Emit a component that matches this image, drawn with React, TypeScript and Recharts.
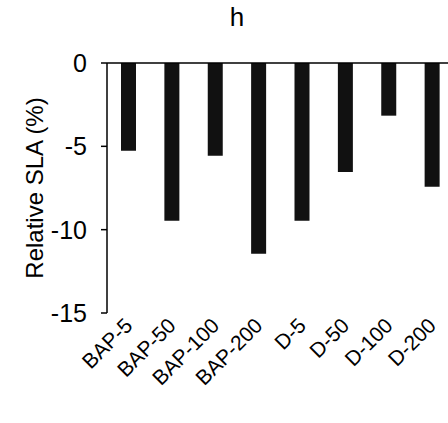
import { BarChart, Bar, XAxis, YAxis, ReferenceLine, Label } from "recharts";

const treatments = ["BAP-5", "BAP-50", "BAP-100", "BAP-200", "D-5", "D-50", "D-100", "D-200"];
const slaChange = [-5.26, -9.46, -5.56, -11.44, -9.46, -6.54, -3.16, -7.42];
const yTicks = [0, -5, -10, -15];

const data = treatments.map((name, i) => ({ name, value: slaChange[i] }));

const font = "Arial, 'Liberation Sans', sans-serif";

function AngledTick({ x, y, payload }: any) {
  return (
    <text
      x={x + 5}
      y={y + 6}
      transform={`rotate(-45, ${x + 5}, ${y + 6})`}
      textAnchor="end"
      fontSize={21}
      fontFamily={font}
      fill="#000"
    >
      {payload.value}
    </text>
  );
}

export default function App() {
  return (
    <div style={{ position: "absolute", left: 0, top: 0, width: 448, height: 423, background: "#fff", overflow: "hidden" }}>
      <div
        style={{
          position: "absolute",
          left: 0,
          width: 474,
          top: 2,
          textAlign: "center",
          fontFamily: font,
          fontSize: 26,
        }}
      >
        h
      </div>
      <BarChart
        width={448}
        height={423}
        data={data}
        margin={{ top: 63, right: -6, bottom: 10, left: 0 }}
      >
        <XAxis
          dataKey="name"
          axisLine={false}
          tickLine={false}
          interval={0}
          height={100}
          tick={<AngledTick />}
        />
        <YAxis
          domain={[-15, 0]}
          ticks={yTicks}
          width={107}
          stroke="#000"
          strokeWidth={1.5}
          tickSize={6}
          tickMargin={14}
          tick={{ fill: "#000", fontSize: 25, fontFamily: font }}
        >
          <Label
            value="Relative SLA (%)"
            angle={-90}
            position="insideLeft"
            offset={34}
            fontSize={24}
            fontFamily={font}
            fill="#000"
            style={{ textAnchor: "middle" }}
          />
        </YAxis>
        <ReferenceLine y={0} stroke="#000" strokeWidth={1.5} />
        <Bar dataKey="value" fill="#111" barSize={15} isAnimationActive={false} />
      </BarChart>
    </div>
  );
}
